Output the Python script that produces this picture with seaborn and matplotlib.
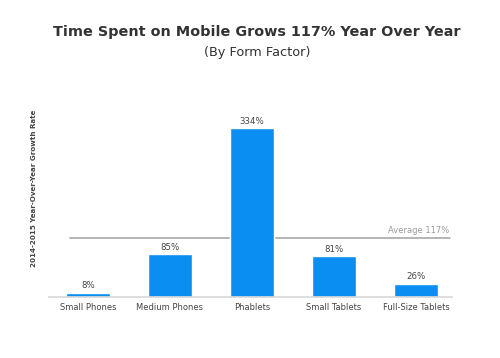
import seaborn as sns
import matplotlib.pyplot as plt
import pandas as pd

# data
categories = ["Small Phones", "Medium Phones", "Phablets", "Small Tablets", "Full-Size Tablets"]
growth = [8, 85, 334, 81, 26]
average = 117

df = pd.DataFrame({"form": categories, "growth": growth})

sns.set_style("white")
plt.rcParams["font.family"] = ["DejaVu Sans"]

fig = plt.figure(figsize=(5, 3.58), dpi=100)
ax = fig.add_axes([0.098, 0.1704, 0.806, 0.55])

sns.barplot(data=df, x="form", y="growth", color="#0a8ef2", saturation=1,
            width=0.54, ax=ax)

ax.set_xlim(-0.476, 4.44)
ax.set_ylim(0, 390)

# average line
ax.axhline(average, xmin=0.052, xmax=0.995, color="#a8a8a8", lw=1.2, zorder=0)
ax.text(4.41, average + 6, f"Average {average}%", ha="right", va="bottom",
        fontsize=6, color="#9a9a9a")

for i, v in enumerate(growth):
    ax.text(i, v + 5, f"{v}%", ha="center", va="bottom", fontsize=6.2, color="#444444")

sns.despine(ax=ax, left=True, top=True, right=True)
ax.spines["bottom"].set_color("#d8d8d8")
ax.spines["bottom"].set_linewidth(1.2)
ax.set_yticks([])
ax.tick_params(axis="x", length=0, pad=4, labelsize=6, labelcolor="#444444")
ax.set_xlabel("")
ax.set_ylabel("2014-2015 Year-Over-Year Growth Rate", fontsize=5.1, color="#444444",
              fontweight="semibold")
ax.yaxis.set_label_coords(-0.03, 0.55)

fig.text(0.514, 0.91, "Time Spent on Mobile Grows 117% Year Over Year", ha="center",
         va="center", fontsize=10.4, fontweight="bold", color="#333333")
fig.text(0.514, 0.852, "(By Form Factor)", ha="center", va="center",
         fontsize=9.3, color="#333333")

fig.savefig("out.png", dpi=100)
plt.close(fig)
